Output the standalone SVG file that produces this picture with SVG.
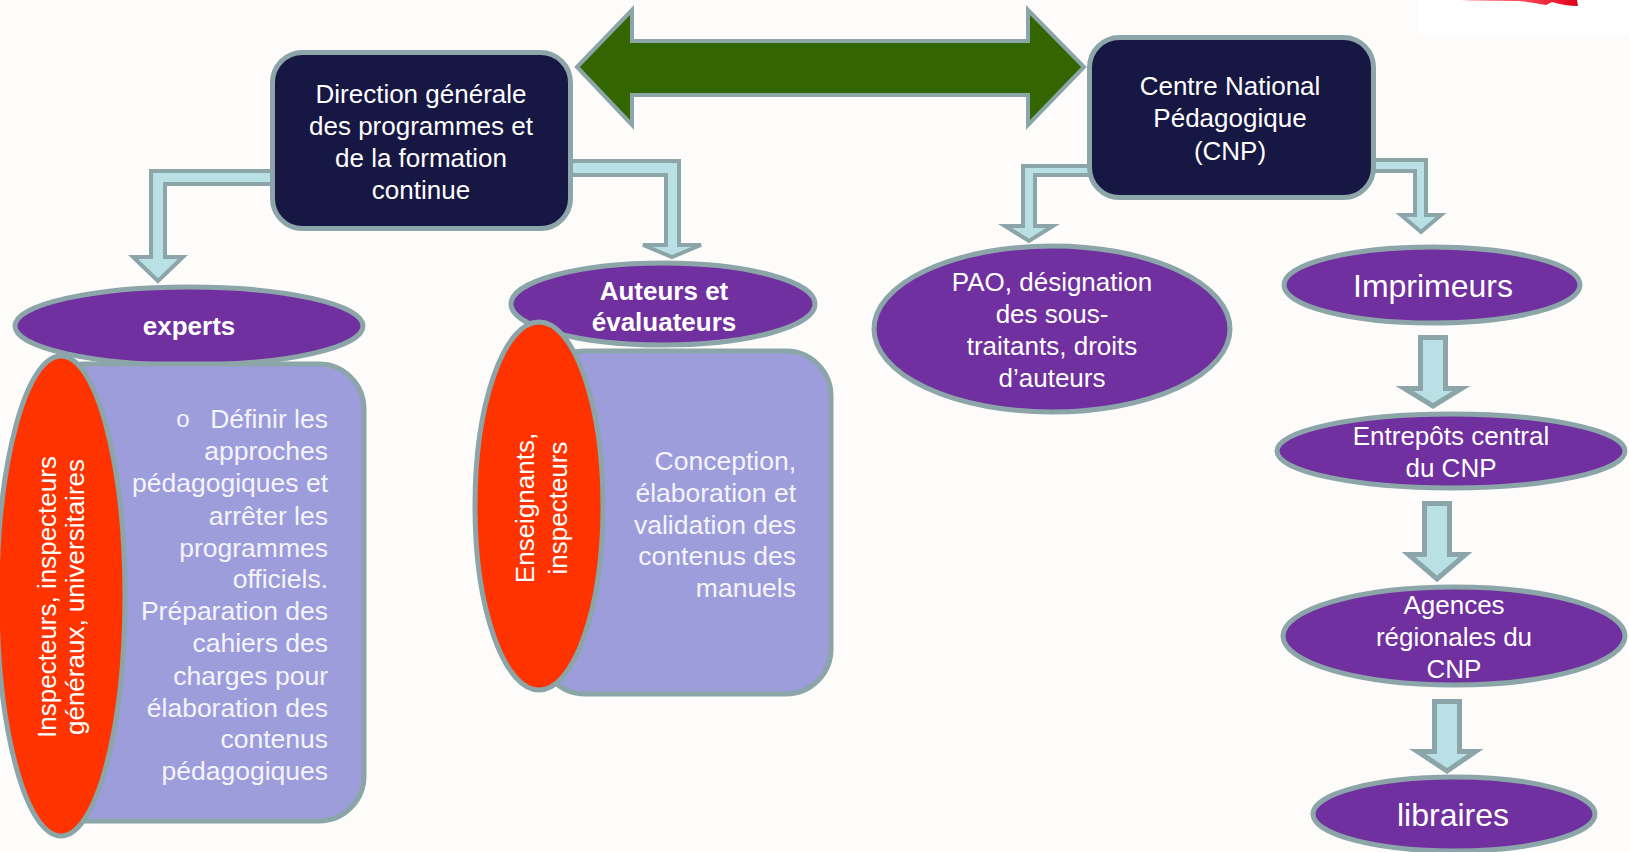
<svg xmlns="http://www.w3.org/2000/svg" width="1629" height="852" viewBox="0 0 1629 852">
<defs>
<style>
.bg{fill:#fdfcfa}
.box{fill:#171743;stroke:#8ba5a8;stroke-width:5}
.pur{fill:#7030a0;stroke:#8ba5a8;stroke-width:5}
.red{fill:#ff3300;stroke:#8ba5a8;stroke-width:5}
.lav{fill:#9d9ddc;stroke:#8ba5a8;stroke-width:5}
.arr{fill:#b9e0e4;stroke:#8ba5a8;stroke-width:4;stroke-linejoin:miter}
.varr{fill:#b9e0e4;stroke:#8ba5a8;stroke-width:5;stroke-linejoin:miter}
.grn{fill:#336600;stroke:#8ba5a8;stroke-width:4;stroke-linejoin:miter}
text{font-family:"Liberation Sans",Arial,sans-serif;fill:#ffffff}
.t26{font-size:26px}
.t27{font-size:26.5px}
.b26{font-size:26px;font-weight:bold}
.t32{font-size:32px}
.mid{text-anchor:middle}
.end{text-anchor:end}
.soft{fill:#f4f4fa}
</style>
<linearGradient id="rg" x1="0" y1="0" x2="1" y2="0">
<stop offset="0" stop-color="#ffd6dc"/>
<stop offset="0.5" stop-color="#ff4a5a"/>
<stop offset="1" stop-color="#e0001a"/>
</linearGradient>
</defs>
<rect class="bg" x="0" y="0" width="1629" height="852"/>
<rect x="1418" y="0" width="211" height="35" fill="#ffffff"/>
<path d="M1460,0 L1577,0 L1578,6 Q1565,6 1552,2 L1546,5 Q1535,3 1520,1 L1470,1 Z" fill="url(#rg)"/>

<g id="connectors">
<polygon class="grn" points="577,67 632,10 632,41 1028,41 1028,10 1084,67 1028,125 1028,95 632,95 632,125"/>
<polygon class="arr" points="274,171 151,171 151,257 133,257 158,281 183,257 165,257 165,184 274,184"/>
<polygon class="arr" points="568,161 679,161 679,245 701,245 672,257 643,245 666,245 666,175 568,175"/>
<polygon class="arr" points="1094,166 1023,166 1023,226 1005,226 1029,241 1053,226 1035,226 1035,175 1094,175"/>
<polygon class="arr" points="1368,160 1426,160 1426,215 1441,215 1421,232 1401,215 1415,215 1415,171 1368,171"/>
<polygon class="varr" points="1420.5,337.5 1445.5,337.5 1445.5,388.5 1461.5,388.5 1433,406 1404.5,388.5 1420.5,388.5"/>
<polygon class="varr" points="1424.5,503.5 1449.5,503.5 1449.5,554.5 1465.5,554.5 1437,579 1408.5,554.5 1424.5,554.5"/>
<polygon class="varr" points="1434.5,701.5 1459.5,701.5 1459.5,751.5 1475.5,751.5 1447,771 1417.5,751.5 1434.5,751.5"/>
</g>

<g id="dgpfc">
<rect class="box" x="272.5" y="52.5" width="298" height="176" rx="30"/>
<text class="t26 mid" x="421" y="103">Direction générale</text>
<text class="t26 mid" x="421" y="135">des programmes et</text>
<text class="t26 mid" x="421" y="167">de la formation</text>
<text class="t26 mid" x="421" y="199">continue</text>
</g>

<g id="cnp">
<rect class="box" x="1089.5" y="37.5" width="284" height="160" rx="30"/>
<text class="t26 mid" x="1230" y="95">Centre National</text>
<text class="t26 mid" x="1230" y="127">Pédagogique</text>
<text class="t26 mid" x="1230" y="160">(CNP)</text>
</g>

<g id="experts">
<ellipse class="pur" cx="189" cy="326" rx="174" ry="39"/>
<text class="b26 mid" x="189" y="335">experts</text>
<rect class="lav" x="40" y="364" width="324" height="457" rx="45"/>
<ellipse class="red" cx="61" cy="596" rx="64" ry="240"/>
<text class="t26 mid" transform="translate(56,597) rotate(-90)">Inspecteurs, inspecteurs</text>
<text class="t26 mid" transform="translate(84,597) rotate(-90)">généraux, universitaires</text>
<text class="soft" x="183" y="427" font-size="24" text-anchor="middle">o</text>
<text class="t27 end soft" x="328" y="428">Définir les</text>
<text class="t27 end soft" x="328" y="460">approches</text>
<text class="t27 end soft" x="328" y="492">pédagogiques et</text>
<text class="t27 end soft" x="328" y="525">arrêter les</text>
<text class="t27 end soft" x="328" y="557">programmes</text>
<text class="t27 end soft" x="328" y="588">officiels.</text>
<text class="t27 end soft" x="328" y="620">Préparation des</text>
<text class="t27 end soft" x="328" y="652">cahiers des</text>
<text class="t27 end soft" x="328" y="685">charges pour</text>
<text class="t27 end soft" x="328" y="717">élaboration des</text>
<text class="t27 end soft" x="328" y="748">contenus</text>
<text class="t27 end soft" x="328" y="780">pédagogiques</text>
</g>

<g id="auteurs">
<ellipse class="pur" cx="663" cy="304" rx="152" ry="41"/>
<text class="b26 mid" x="664" y="300">Auteurs et</text>
<text class="b26 mid" x="664" y="331">évaluateurs</text>
<rect class="lav" x="540" y="351" width="291" height="343" rx="45"/>
<ellipse class="red" cx="539" cy="506" rx="64" ry="184"/>
<text class="t26 mid" transform="translate(534,508) rotate(-90)">Enseignants,</text>
<text class="t26 mid" transform="translate(567,508) rotate(-90)">inspecteurs</text>
<text class="t27 end soft" x="796" y="470">Conception,</text>
<text class="t27 end soft" x="796" y="502">élaboration et</text>
<text class="t27 end soft" x="796" y="534">validation des</text>
<text class="t27 end soft" x="796" y="565">contenus des</text>
<text class="t27 end soft" x="796" y="597">manuels</text>
</g>

<g id="pao">
<ellipse class="pur" cx="1052" cy="329" rx="178" ry="83"/>
<text class="t26 mid" x="1052" y="291">PAO, désignation</text>
<text class="t26 mid" x="1052" y="323">des sous-</text>
<text class="t26 mid" x="1052" y="355">traitants, droits</text>
<text class="t26 mid" x="1052" y="387">d’auteurs</text>
</g>

<g id="imprimeurs">
<ellipse class="pur" cx="1432" cy="285" rx="148" ry="38"/>
<text class="t32 mid" x="1433" y="297">Imprimeurs</text>
</g>

<g id="entrepots">
<ellipse class="pur" cx="1451" cy="451" rx="174" ry="37"/>
<text class="t26 mid" x="1451" y="445">Entrepôts central</text>
<text class="t26 mid" x="1451" y="477">du CNP</text>
</g>

<g id="agences">
<ellipse class="pur" cx="1454" cy="636" rx="171" ry="49"/>
<text class="t26 mid" x="1454" y="614">Agences</text>
<text class="t26 mid" x="1454" y="646">régionales du</text>
<text class="t26 mid" x="1454" y="678">CNP</text>
</g>

<g id="libraires">
<ellipse class="pur" cx="1454" cy="814" rx="141" ry="37"/>
<text class="t32 mid" x="1453" y="826">libraires</text>
</g>
</svg>
